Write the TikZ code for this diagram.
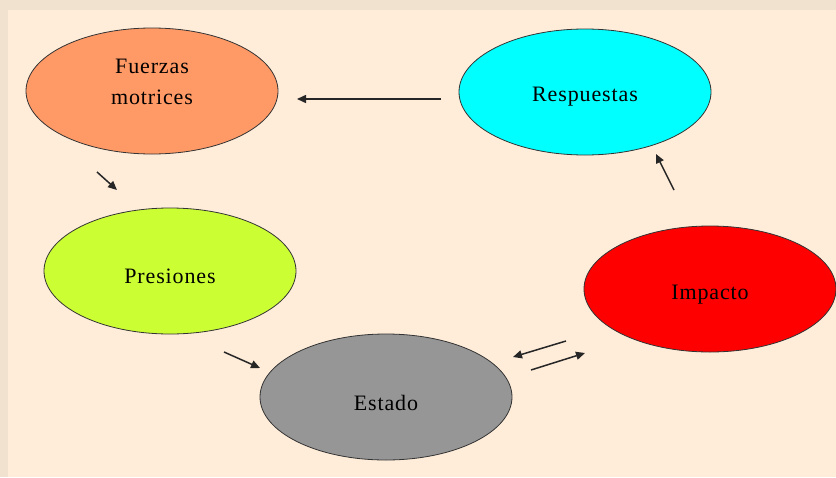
\documentclass[tikz,border=0pt]{standalone}
\usepackage{fontspec}
\setmainfont{Liberation Serif}[LetterSpace=4]
\usetikzlibrary{arrows.meta,shapes.geometric}
\definecolor{outerbg}{HTML}{F0E2CF}
\definecolor{innerbg}{HTML}{FFEDDA}
\definecolor{cfuerzas}{HTML}{FF9966}
\definecolor{cresp}{HTML}{00FFFF}
\definecolor{cpres}{HTML}{CCFF33}
\definecolor{cimp}{HTML}{FF0000}
\definecolor{cestado}{HTML}{969696}
\tikzset{
  blob/.style={ellipse, draw=black!80, line width=0.8pt, minimum width=252pt, minimum height=126pt, inner sep=0pt},
  lbl/.style={align=center, font=\fontsize{22}{31}\selectfont, inner sep=0pt},
  arr/.style={-{Triangle[length=9pt,width=8pt]}, line width=1.5pt, black!85},
}
\begin{document}
\begin{tikzpicture}[x=1pt,y=-1pt]
\useasboundingbox (0,0) rectangle (836,477);
\fill[outerbg] (0,0) rectangle (836,477);
\fill[innerbg] (8,10) rectangle (836,477);
\begin{scope}
\clip (0,0) rectangle (836,477);
\node[blob, fill=cfuerzas, label={[lbl, yshift=9pt]center:Fuerzas\\motrices}] (fm) at (152,91) {};
\node[blob, fill=cresp, label={[lbl, yshift=-5pt]center:Respuestas}] (resp) at (585,92) {};
\node[blob, fill=cpres, label={[lbl, yshift=-5pt]center:Presiones}] (pres) at (170,271) {};
\node[blob, fill=cimp, label={[lbl, yshift=-6pt]center:Impacto}] (imp) at (710,289) {};
\node[blob, fill=cestado, label={[lbl, yshift=-6pt]center:Estado}] (est) at (386,397) {};
\end{scope}
\coordinate (a1s) at (441,99); \coordinate (a1e) at (297,99);
\coordinate (a2s) at (97,172); \coordinate (a2e) at (117,190);
\coordinate (a3s) at (224,352); \coordinate (a3e) at (260,368);
\coordinate (a4s) at (531,370); \coordinate (a4e) at (585,353);
\coordinate (a5s) at (566,341); \coordinate (a5e) at (513,357);
\coordinate (a6s) at (674,190); \coordinate (a6e) at (656,154);
\draw[arr] (a1s) -- (a1e);
\draw[arr] (a2s) -- (a2e);
\draw[arr] (a3s) -- (a3e);
\draw[arr] (a4s) -- (a4e);
\draw[arr] (a5s) -- (a5e);
\draw[arr] (a6s) -- (a6e);
\end{tikzpicture}
\end{document}
